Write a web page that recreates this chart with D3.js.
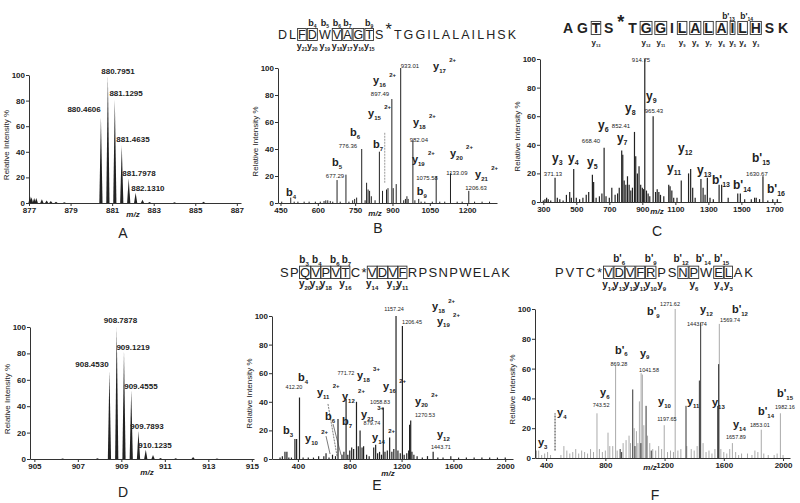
<!DOCTYPE html>
<html>
<head>
<meta charset="utf-8">
<script src="https://cdn.jsdelivr.net/npm/d3@7"></script>
<style>
body { margin: 0; background: #fff; }
svg { display: block; font-family: "Liberation Sans", Arial, sans-serif; }
</style>
</head>
<body>
<script>
// ---- data: [m/z, relative intensity %] ----
var aPeaks = [[877.05,5],[877.12,4.5],[877.25,4],[877.35,4],[877.62,3],[877.85,2],[878.05,1.5],[878.3,1],[878.7,0.5],
    [880.4606,67],[880.7951,100],[881.1295,81],[881.4635,45],[881.7978,19],[882.1310,8],[882.46,2.5],[882.8,0.8],[884.0,0.5],[885.4,1]];
var aLabels = [["880.7951",881.28,100.8],["881.1295",881.67,83.6],["880.4606",879.65,71.1],
    ["881.4635",882.00,47.7],["881.7978",882.29,21.1],["882.1310",882.72,9.4]];

var dPeaks = [[906.3,0.3],[907.9,0.5],[908.4530,67],[908.7878,100],[909.1219,82],[909.4555,52],[909.7893,21],
    [910.1235,7],[910.457,3],[910.8,0.8],[911.5,0.5],[912.3,1.5],[913.4,0.3]];
var dLabels = [["908.7878",908.96,103],["909.1219",909.54,82.6],["908.4530",907.65,69.7],
    ["909.4555",909.90,53],["909.7893",910.18,22.7],["910.1235",910.55,8.3]];

var bPeaks = [[455,1],[491.2,4],[505,1],[520,1],[545,1],[565,1],[590,1],[610,1],[625,1.5],[632,2],[640,2],[650,1.5],[660,1],
    [677.29,17],[690,1],[713,21],[725,1],[740,2],[748,3],[756,4],[776.36,40],[790,2],[796,15],[802,10],[808,9],[815,5],
    [830,2],[847.4,38],[860,9],[876,10],[882,11],[897.49,77],[903,11],[915,14],[933.01,100],[945,2],[952,3],[958,5],
    [963,3],[982.04,46],[990,2],[1005.5,3],[1015,1],[1030,1],[1060,1],[1075.58,20],[1090,1],[1110,1],[1133.09,22],
    [1160,1],[1180,1],[1206.63,9],[1230,1],[1260,1],[1290,1]];
var bDashed = [[868.98,15,52]];
var bIons = [["b","4","",472,5.2],["b","5","",657,27.4],["b","6","",729,49.6],["b","7","",822,40.7],
    ["y","15","2+",802,63.7],["y","16","2+",822,88],["y","17","2+",1063,98.5],["y","18","2+",982,57],
    ["y","19","2+",978,29.6],["y","20","2+",1131,34],["y","21","2+",1232,18.5],["b","9","",998,6]];
var bMass = [["677.29",669,18.5],["776.36",721,40.7],["897.49",850,79],["933.01",970,100],["982.04",1006,45],
    ["1075.58",1039,17],["1133.09",1159,20.7],["1206.63",1236,9.6]];

var cPeaks = [[300,1],[310,2],[320,3],[330,2],[345,1],[371.2,17],[385,3],[400,2],[420,1],[440,5],[460,7],[470,3],
    [484.3,23],[500,3],[520,2],[540,3],[560,5],[575,7],[597.4,19],[605,14],[620,3],[640,4],[655,6],[668.4,38],[680,4],
    [700,3],[715,10],[735,5],[750,6],[760,10],[775,36],[781.5,33],[790,15],[800,12],[810,18],[820,12],[830,8],[840,10],
    [852.4,49],[860,32],[870,20],[880,25],[890,12],[900,10],[907,9],[914.75,100],[925,8],[935,6],[945,4],[965.4,60],
    [980,7],[990,9],[1000,7],[1010,5],[1030,4],[1060,12],[1068,11],[1078.7,8],[1090,3],[1110,3],[1135.7,15],[1180,20],
    [1192.7,23],[1205,10],[1220,3],[1255,16],[1268,10],[1280,5],[1293.8,17],[1310,3],[1330,2],[1365,12],[1380.5,12],
    [1420,3],[1478,6],[1493.6,6],[1520,2],[1560,2],[1580,3],[1590,3],[1610,2],[1630.67,18],[1660,1],[1690,2],[1717.7,2]];
var cIons = [["y","3","",353,28],["y","4","",450,28],["y","5","",565,25],["y","6","",631,51],["y","7","",746,42],
    ["y","8","",795,63],["y","9","",922,71],["y","11","",1049,21],["y","12","",1116,35],["y","13","",1231,19.6],
    ["b'","13","",1322,12.6],["b'","14","",1449,9],["b'","15","",1564,28],["b'","16","",1655,6.3]];
var cMass = [["371.13",359,18.2],["668.40",589,41],["852.41",771,51.7],["914.75",892,98],["965.43",970,62],["1630.67",1594,18.2]];

var ePeaks = [[262,1],[280,2],[300,5],[315,5],[330,1],[350,1],[377,14],[390,14],[412.20,43],[440,1],[480,1],[520,1],
    [560,2],[600,2],[617,4],[640,1],[667,3],[690,2],[709.4,28],[740,3],[755,5],[771.72,42],[785,3],[800,6],[815,8],
    [830,7],[852,40],[866,9],[879.74,20],[895,8],[907,9],[930,3],[950,2],[985,8],[1000,10],[1015,4],[1030,5],[1045,3],
    [1058.83,36],[1072,5],[1090,6],[1108,15],[1125,5],[1140,7],[1157.24,100],[1172,6],[1190,4],[1206.45,93],[1220,3],
    [1240,4],[1255,6],[1262,24],[1270.53,27],[1280,5],[1295,3],[1320,2],[1360,1],[1400,2],[1443.71,5],[1480,1],[1520,1],
    [1580,2],[1640,1],[1700,1],[1760,1],[1820,1],[1880,1],[1940,1],[2000,1]];
var eLeaders = [[617,16,648,3.5],[632,38.5,702,2],[671,24.5,733,2.8]];
var eIons = [["b","3","",285,17.5],["b","4","",401,54.5],["y","10","2+",455,11.9],["y","11","2+",547,44],
    ["b","6","",609,27],["b","7","",740,23.8],["y","12","2+",740,41],["y","18","3+",856,56],["y","21","3+",887,28.7],
    ["y","14","2+",972,12.6],["y","16","2+",1057,48],["y","18","2+",1435,104],["y","19","2+",1473,94],
    ["y","20","2+",1304,38],["y","12","",1473,14.7]];
var eMass = [["412.20",370,49],["771.72",771,58.7],["1058.83",1034,38.5],["879.74",972,23.8],["1157.24",1142,103.5],
    ["1206.45",1281,94.4],["1270.53",1381,29.4],["1443.71",1504,7]];

var fLight = [[350,5],[370,2],[390,3],[410,4],[430,2],[500,2],[520,8],[540,5],[560,3],[580,4],[600,6],[620,3],[640,5],
    [660,4],[680,3],[700,6],[720,4],[743.52,30],[760,6],[780,4],[800,5],[818,17],[830,8],[850,8],[869.28,62],[880,5],
    [920,10],[940,12],[960,15],[970,10],[995,20],[1010,18],[1020,10],[1030,38],[1041.58,57],[1050,56],[1060,22],
    [1085,15],[1100,10],[1120,6],[1140,5],[1160,8],[1180,6],[1197.65,22],[1220,4],[1240,5],[1260,4],[1271.62,100],
    [1290,5],[1310,6],[1350,8],[1380,6],[1400,5],[1420,8],[1460,10],[1480,4],[1500,5],[1520,3],[1540,6],[1569.74,90],
    [1580,6],[1600,4],[1620,3],[1640,6],[1657.89,10],[1680,4],[1700,2],[1720,3],[1760,3],[1790,2],[1810,5],[1830,4],
    [1853.01,19],[1870,3],[1900,2],[1940,2],[1960,3],[1982.16,30],[2000,2]];
var fDark = [[331.2,5],[900,6],[910,4],[985,46],[1000,8],[1040,10],[1075,35],[1110,5],[1344.7,35],[1435,52],
    [1443.76,91],[1558.8,35],[1565,63]];
var fDashed = [[460.3,5,30]];
var fIons = [["y","3","",345,8],["y","4","",474,28],["y","6","",764,41.6],["b'","6","",865,70],["y","9","",1034,68],
    ["b'","9","",1081,96],["y","10","",1156,35.6],["y","11","",1351,35.6],["y","12","",1439,97],["y","13","",1520,35],
    ["b'","12","",1655,97],["y","14","",1662,20],["b'","14","",1831,29],["b'","15","",1959,41]];
var fMass = [["743.52",771,34],["869.28",892,62],["1041.58",1095,58],["1271.62",1237,102],["1197.65",1216,25],
    ["1443.74",1419,88.6],["1569.74",1642,91],["1657.89",1682,12.8],["1853.01",1844,20.8],["1982.16",2013,33]];

var yTicks = [0, 20, 40, 60, 80, 100];

// ---- drawing ----
var ink = "#222";
var svg = d3.select("body").append("svg").attr("width", 800).attr("height", 503);

function ion(g, px, py, base, sub, sup, size, anchor) {
    var t = g.append("text")
        .attr("x", px).attr("y", py)
        .attr("font-size", size).attr("font-weight", "bold")
        .attr("fill", ink).attr("text-anchor", anchor || "start");
    t.append("tspan").text(base);
    if (sub) t.append("tspan").attr("font-size", Math.round(size * 0.55)).attr("dy", size * 0.25).text(sub);
    if (sup) t.append("tspan").attr("font-size", Math.round(size * 0.55)).attr("dx", size * 0.3).attr("dy", -size * 0.95).text(sup);
}

function panel(L) {
    var g = svg.append("g");
    var x = d3.scaleLinear().domain(L.xDomain).range(L.xRange);
    var y = d3.scaleLinear().domain([0, 100]).range(L.yRange);

    var xa = g.append("g")
        .attr("transform", "translate(0," + L.yRange[0] + ")")
        .call(d3.axisBottom(x).tickValues(L.xTicks).tickSize(3).tickSizeOuter(0).tickPadding(1).tickFormat(d3.format("d")));
    var ya = g.append("g")
        .attr("transform", "translate(" + L.xRange[0] + ",0)")
        .call(d3.axisLeft(y).tickValues(yTicks).tickSize(3).tickSizeOuter(0).tickPadding(1));
    [xa, ya].forEach(function(a) {
        a.select(".domain").attr("stroke", "#333");
        a.selectAll(".tick line").attr("stroke", "#333");
        a.selectAll("text").attr("font-size", 8).attr("font-weight", "bold").attr("fill", ink)
            .attr("font-family", "Liberation Sans, Arial, sans-serif");
    });

    g.append("text")
        .attr("transform", "translate(" + (L.xRange[0] - 20) + "," + ((L.yRange[0] + L.yRange[1]) / 2 + 6) + ") rotate(-90)")
        .attr("text-anchor", "middle").attr("font-size", 8).attr("fill", ink)
        .text("Relative Intensity %");

    g.append("text")
        .attr("x", L.mz[0]).attr("y", L.mz[1])
        .attr("text-anchor", "middle").attr("font-size", 8).attr("font-weight", "bold")
        .attr("font-style", "italic").attr("fill", ink)
        .text("m/z");

    g.append("text")
        .attr("x", L.letter[1]).attr("y", L.letter[2])
        .attr("text-anchor", "middle").attr("font-size", 14).attr("fill", ink)
        .text(L.letter[0]);

    return { g: g, x: x, y: y };
}

function spikes(P, data, color, width) {
    P.g.append("g").selectAll("line").data(data).join("line")
        .attr("x1", function(d) { return P.x(d[0]); })
        .attr("x2", function(d) { return P.x(d[0]); })
        .attr("y1", P.y(0))
        .attr("y2", function(d) { return P.y(d[1]); })
        .attr("stroke", color).attr("stroke-width", width);
}

function triangles(P, data) {
    P.g.append("g").selectAll("path").data(data).join("path")
        .attr("d", function(d) {
            var cx = P.x(d[0]), b = P.y(0), t = P.y(d[1]);
            return "M" + (cx - 1.6) + "," + b + "L" + cx + "," + t + "L" + (cx + 1.6) + "," + b + "Z";
        })
        .attr("fill", ink);
}

function massLabels(P, data, size, bold) {
    P.g.append("g").selectAll("text").data(data).join("text")
        .attr("x", function(d) { return P.x(d[1]); })
        .attr("y", function(d) { return P.y(d[2]); })
        .attr("text-anchor", "middle").attr("font-size", size)
        .attr("font-weight", bold ? "bold" : "normal").attr("fill", ink)
        .text(function(d) { return d[0]; });
}

function ionLabels(P, data, size) {
    data.forEach(function(d) { ion(P.g, P.x(d[3]), P.y(d[4]), d[0], d[1], d[2], size); });
}

function dashed(P, data, color) {
    P.g.append("g").selectAll("line").data(data).join("line")
        .attr("x1", function(d) { return P.x(d[0]); })
        .attr("x2", function(d) { return P.x(d[0]); })
        .attr("y1", function(d) { return P.y(d[1]); })
        .attr("y2", function(d) { return P.y(d[2]); })
        .attr("stroke", color).attr("stroke-width", 1).attr("stroke-dasharray", "2,1");
}

// peptide sequence header with fragment boxes
function header(opt) {
    var g = svg.append("g");
    var chars = opt.seq.split("");
    var items = [], total = 0;
    chars.forEach(function(c) {
        var star = c === "*" && opt.raise;
        var t = g.append("text")
            .attr("font-size", star ? opt.size * 1.3 : opt.size)
            .attr("font-weight", opt.weight).attr("fill", ink).text(c);
        var w = t.node().getComputedTextLength();
        items.push({ t: t, w: w, star: star });
        total += w;
    });
    var gap = (opt.x1 - opt.x0 - total) / (chars.length - 1);
    var cx = opt.x0;
    items.forEach(function(d) {
        d.x = cx;
        d.t.attr("x", cx).attr("y", opt.y - (d.star ? opt.size * 0.35 : 0));
        cx += d.w + gap;
    });
    var cap = opt.size * 0.72;
    opt.boxes.forEach(function(i) {
        var d = items[i];
        g.append("rect")
            .attr("x", d.x - 0.5).attr("y", opt.y - cap - 1.5)
            .attr("width", d.w + 1).attr("height", cap + 3)
            .attr("fill", "none").attr("stroke", "#333").attr("stroke-width", 0.9);
    });
    opt.tops.forEach(function(t) {
        var d = items[t[0]];
        ion(g, d.x + d.w / 2 + (t[3] || 0), opt.topY, t[1], t[2], "", opt.topSize, "middle");
    });
    opt.bottoms.forEach(function(t) {
        var d = items[t[0]];
        ion(g, d.x + d.w / 2, opt.botY, "y", t[1], "", opt.botSize, "middle");
    });
}

// Panel A
var A = panel({ xDomain: [877, 887.2], xRange: [29, 241], yRange: [203, 75], xTicks: d3.range(877, 888, 2),
    mz: [133, 217], letter: ["A", 123, 238] });
triangles(A, aPeaks);
massLabels(A, aLabels, 8, true);

// Panel D
var D = panel({ xDomain: [904.8, 915.1], xRange: [30, 254], yRange: [459, 327], xTicks: d3.range(905, 916, 2),
    mz: [147, 475], letter: ["D", 123, 497] });
triangles(D, dPeaks);
massLabels(D, dLabels, 8, true);

// Panel B
var B = panel({ xDomain: [440, 1320], xRange: [278, 497], yRange: [203, 68], xTicks: [450, 600, 750, 900, 1050, 1200],
    mz: [375, 216], letter: ["B", 378, 233] });
spikes(B, bPeaks, ink, 1);
dashed(B, bDashed, "#999");
massLabels(B, bMass, 6, false);
ionLabels(B, bIons, 11);
header({ seq: "DLFDWVAGTS*TGGILALAILHSK", x0: 278, x1: 516, y: 39, size: 12.5, weight: "normal", raise: true,
    boxes: [2, 3, 5, 6, 7, 8],
    tops: [[3, "b", "4"], [4, "b", "5"], [5, "b", "6"], [6, "b", "7"], [8, "b", "9"]], topY: 26, topSize: 9,
    bottoms: [[2, "21"], [3, "20"], [4, "19"], [5, "18"], [6, "17"], [7, "16"], [8, "15"]], botY: 49, botSize: 9 });

// Panel C
var C = panel({ xDomain: [280, 1740], xRange: [540, 781], yRange: [202, 59], xTicks: d3.range(300, 1701, 200),
    mz: [657, 214], letter: ["C", 657, 236] });
spikes(C, cPeaks, ink, 1.2);
massLabels(C, cMass, 6, false);
ionLabels(C, cIons, 12);
header({ seq: "AGTS*TGGILALAILHSK", x0: 563, x1: 788, y: 33, size: 14, weight: "bold", raise: true,
    boxes: [2, 6, 7, 9, 10, 11, 12, 13, 14, 15],
    tops: [[13, "b'", "13", -4], [14, "b'", "14", 4]], topY: 19, topSize: 8.5,
    bottoms: [[2, "13"], [6, "12"], [7, "11"], [9, "9"], [10, "8"], [11, "7"], [12, "6"], [13, "5"], [14, "4"], [15, "3"]],
    botY: 45, botSize: 8 });

// Panel E
var E = panel({ xDomain: [200, 2060], xRange: [272, 513], yRange: [459, 316], xTicks: [400, 800, 1200, 1600, 2000],
    mz: [388, 476], letter: ["E", 377, 490] });
spikes(E, ePeaks, ink, 1.2);
E.g.append("g").selectAll("line").data(eLeaders).join("line")
    .attr("x1", function(d) { return E.x(d[0]); }).attr("y1", function(d) { return E.y(d[1]); })
    .attr("x2", function(d) { return E.x(d[2]); }).attr("y2", function(d) { return E.y(d[3]); })
    .attr("stroke", "#444").attr("stroke-width", 0.7).attr("stroke-dasharray", function(d, i) { return i === 1 ? "2,1" : null; });
massLabels(E, eMass, 5.5, false);
ionLabels(E, eIons, 11);
header({ seq: "SPQVPVTC*VDVFRPSNPWELAK", x0: 280, x1: 510, y: 277, size: 13, weight: "normal", raise: false,
    boxes: [2, 3, 4, 5, 6, 9, 10, 11, 12],
    tops: [[2, "b", "3", -1], [3, "b", "4", 1], [5, "b", "6", -1], [6, "b", "7", 1]], topY: 263, topSize: 10,
    bottoms: [[2, "20"], [3, "19"], [4, "18"], [6, "16"], [9, "14"], [11, "12"], [12, "11"]], botY: 287, botSize: 10 });

// Panel F
var F = panel({ xDomain: [325, 2047], xRange: [535, 790], yRange: [458, 309], xTicks: [400, 800, 1200, 1600, 2000],
    mz: [650, 470], letter: ["F", 655, 500] });
spikes(F, fLight, "#aaa", 1);
spikes(F, fDark, "#333", 1);
dashed(F, fDashed, "#333");
massLabels(F, fMass, 5.5, false);
ionLabels(F, fIons, 11);
header({ seq: "PVTC*VDVFRPSNPWELAK", x0: 555, x1: 753, y: 277, size: 13, weight: "normal", raise: false,
    boxes: [5, 6, 7, 8, 9, 12, 13, 15, 16],
    tops: [[6, "b'", "6"], [9, "b'", "9"], [12, "b'", "12", -2], [14, "b'", "14", -3], [15, "b'", "15", 3]], topY: 262, topSize: 10,
    bottoms: [[5, "14"], [6, "13"], [7, "12"], [8, "11"], [9, "10"], [10, "9"], [13, "6"], [15, "4"], [16, "3"]],
    botY: 288, botSize: 10 });
</script>
</body>
</html>
